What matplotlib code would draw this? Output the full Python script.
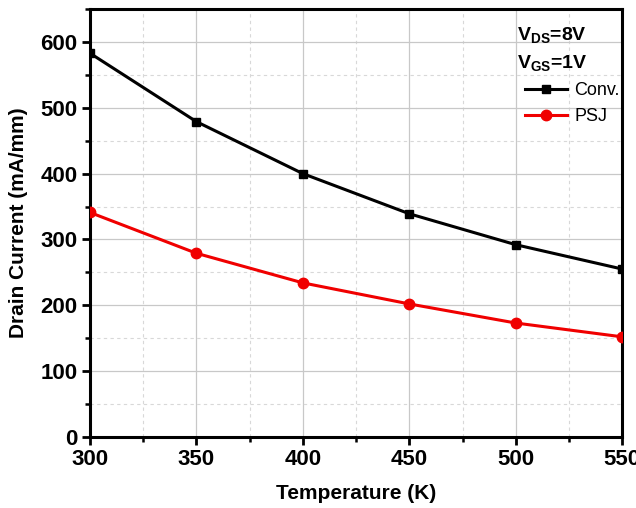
import matplotlib.pyplot as plt
from matplotlib.ticker import MultipleLocator

plt.rcParams['font.family'] = ['Liberation Sans', 'DejaVu Sans']
plt.rcParams['mathtext.fontset'] = 'custom'
plt.rcParams['mathtext.rm'] = 'Liberation Sans'
plt.rcParams['mathtext.bf'] = 'Liberation Sans:bold'

temperature = [300, 350, 400, 450, 500, 550]
conv_current = [583, 479, 400, 339, 292, 255]
psj_current = [341, 279, 234, 202, 173, 152]

fig = plt.figure(figsize=(6.36, 5.08), dpi=100)
ax = fig.add_axes([0.1415, 0.140, 0.837, 0.842])

ax.plot(temperature, conv_current, color='black', lw=2.2, marker='s', ms=5.5,
        label='Conv.', zorder=3)
ax.plot(temperature, psj_current, color='#f00000', lw=2.2, marker='o', ms=7.5,
        label='PSJ', zorder=3)

ax.set_xlim(300, 550)
ax.set_ylim(0, 650)
ax.xaxis.set_major_locator(MultipleLocator(50))
ax.xaxis.set_minor_locator(MultipleLocator(25))
ax.yaxis.set_major_locator(MultipleLocator(100))
ax.yaxis.set_minor_locator(MultipleLocator(50))

ax.grid(which='major', color='#c8c8c8', lw=0.9, ls='-')
ax.grid(which='minor', color='#d8d8d8', lw=0.8, ls=(0, (3, 3)))
ax.set_axisbelow(True)

for side in ax.spines.values():
    side.set_linewidth(2.2)
ax.tick_params(which='major', direction='out', length=6, width=2,
               labelsize=16, pad=3)
ax.tick_params(which='minor', direction='out', length=3.5, width=1.8)
for lab in ax.get_xticklabels() + ax.get_yticklabels():
    lab.set_fontweight('bold')

ax.set_xlabel('Temperature (K)', fontsize=15, fontweight='bold', labelpad=10)
ax.set_ylabel('Drain Current (mA/mm)', fontsize=15, fontweight='bold', labelpad=9)

ax.text(0.803, 0.94, r'$\mathbf{V_{DS}}$=8V', transform=ax.transAxes,
        fontsize=14, fontweight='bold', va='center')
ax.text(0.803, 0.874, r'$\mathbf{V_{GS}}$=1V', transform=ax.transAxes,
        fontsize=14, fontweight='bold', va='center')
ax.legend(loc='upper right', bbox_to_anchor=(1.015, 0.855), frameon=False,
          fontsize=13, handlelength=2.3, handletextpad=0.4, labelspacing=0.5,
          borderaxespad=0.2)

fig.savefig('out.png', dpi=100)
